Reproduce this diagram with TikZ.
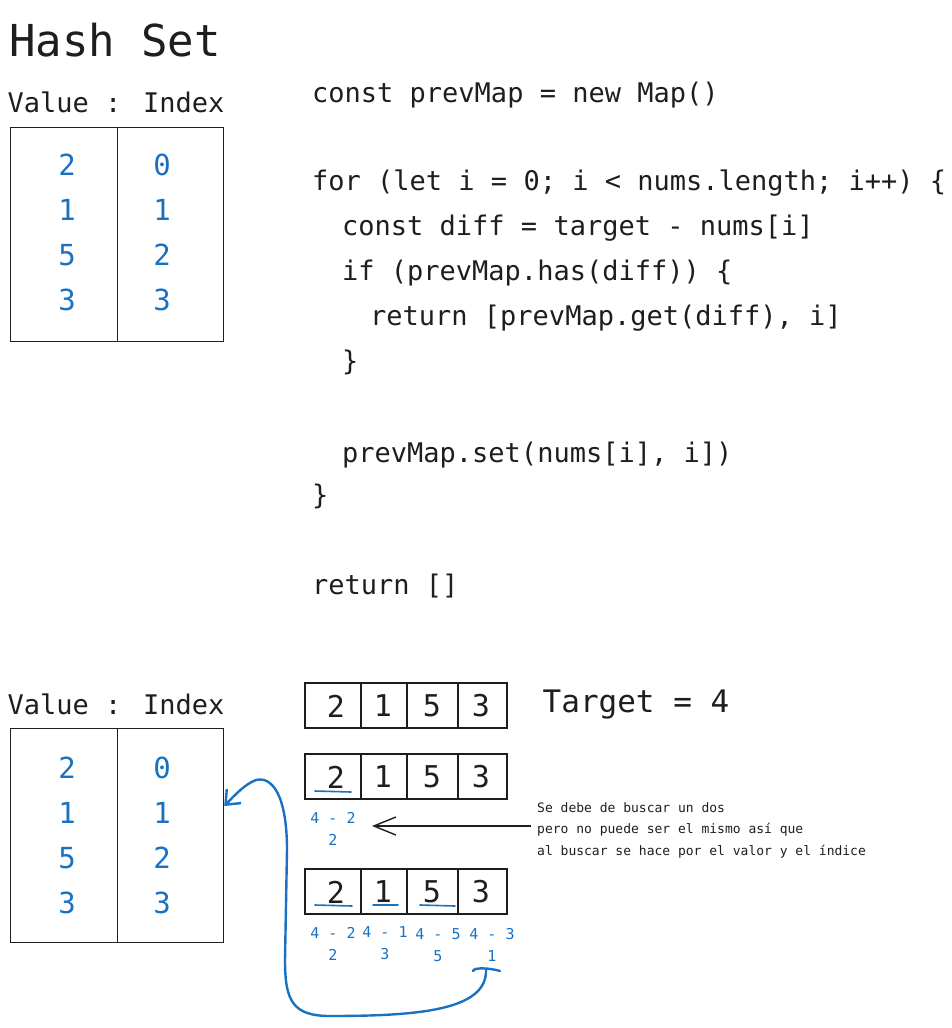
\documentclass[tikz,border=0pt]{standalone}
\usepackage{fontspec}
\setmainfont{DejaVu Sans Mono}
\setmonofont{DejaVu Sans Mono}
\usetikzlibrary{arrows.meta}
\definecolor{ink}{HTML}{1E1E1E}
\definecolor{inkblue}{HTML}{1971C2}
\newcommand{\fsz}[1]{\fontsize{#1}{#1}\selectfont}

\begin{document}
\begin{tikzpicture}[x=1pt, y=-1pt,
    title/.style={font=\fsz{44}, text=ink},
    header/.style={font=\fsz{27}, text=ink},
    code/.style={font=\fsz{27}, text=ink, anchor=west, inner sep=0pt, text height=20pt, text depth=6pt},
    tabnum/.style={font=\fsz{29}, text=inkblue},
    cellnum/.style={font=\fsz{30}, text=ink},
    diffnum/.style={font=\fontsize{15}{22}\selectfont, text=inkblue, align=center, inner sep=0pt},
    note/.style={font=\fontsize{13}{21.5}\selectfont, text=ink, anchor=west, align=left, inner sep=0pt},
    frame/.style={draw=ink, line width=1.2pt},
    hashbox/.style={frame, minimum width=213, minimum height=214, anchor=north west, inner sep=0pt},
    underl/.style={draw=inkblue, line width=1.6pt, line cap=round},
    blueline/.style={draw=inkblue, line width=2.4pt, line cap=round}
  ]
  \useasboundingbox (0,0) rectangle (951,1028);

  % hash set
  \node[title] (hashset) at (115,40) {Hash Set};
  \node[header] (tophead) at (116,102) {Value : Index};
  \node[hashbox] (toptab) at (10,127) {};
  \draw[frame] (toptab.north) -- (toptab.south);
  \foreach \v/\i [count=\r] in {2/0,1/1,5/2,3/3} {
    \node[tabnum] (topv\r) at (67,120+45*\r) {\v};
    \node[tabnum] (topi\r) at (162,120+45*\r) {\i};
  }

  % code
  \node[code] (l1) at (312,95) {const prevMap = new Map()};
  \node[code] (l2) at (312,183) {for (let i = 0; i < nums.length; i++) \{};
  \node[code] (l3) at (342,228) {const diff = target - nums[i]};
  \node[code] (l4) at (342,273) {if (prevMap.has(diff)) \{};
  \node[code] (l5) at (370,318) {return [prevMap.get(diff), i]};
  \node[code] (l6) at (342,363) {\}};
  \node[code] (l7) at (342,455) {prevMap.set(nums[i], i])};
  \node[code] (l8) at (312,497) {\}};
  \node[code] (l9) at (312,587) {return []};

  % second hash set
  \node[header] (lowhead) at (116,704) {Value : Index};
  \node[hashbox] (lowtab) at (10,728) {};
  \draw[frame] (lowtab.north) -- (lowtab.south);
  \foreach \v/\i [count=\r] in {2/0,1/1,5/2,3/3} {
    \node[tabnum] (lowv\r) at (67,723+45*\r) {\v};
    \node[tabnum] (lowi\r) at (162,723+45*\r) {\i};
  }

  % arrays
  \foreach \yy [count=\k] in {683,754,869} {
    \draw[frame] (305,\yy) rectangle (507,\yy+45);
    \foreach \d in {361,407,458}
      \draw[frame] (\d,\yy) -- (\d,\yy+45);
    \foreach \n/\x [count=\c] in {2/336,1/383,5/432,3/481}
      \node[cellnum] (a\k c\c) at (\x,\yy+23) {\n};
  }
  \node[header, font=\fsz{31}] (target) at (636,705) {Target = 4};

  % first lookup
  \draw[underl] (315,791) -- (351,792);
  \node[diffnum] (d2) at (333,829) {4 - 2\\2};
  \node[note] (note) at (537,830) {Se debe de buscar un dos\\pero no puede ser el mismo así que\\al buscar se hace por el valor y el índice};
  \coordinate (tip) at (372,826);
  \draw[ink, line width=1.4pt, -{Straight Barb[length=22pt,width=18pt]}] ([xshift=-6pt]note.west |- tip) -- (tip);

  % all lookups
  \draw[underl] (315,905) -- (352,906);
  \draw[underl] (373,905) -- (398,905);
  \draw[underl] (420,905) -- (455,906);
  \node[diffnum] (d3c1) at (333,944) {4 - 2\\2};
  \node[diffnum] (d3c2) at (385,943) {4 - 1\\3};
  \node[diffnum] (d3c3) at (438,945) {4 - 5\\5};
  \node[diffnum] (d3c4) at (492,945) {4 - 3\\1};

  % found
  \coordinate (brl) at (473,971);
  \coordinate (brm) at (486,969);
  \coordinate (brr) at (500,971);
  \coordinate (hit) at (lowtab.east |- 0,806);
  \draw[blueline] (brl) .. controls (474,967) and (490,968) .. (brr);
  \draw[blueline, -{Straight Barb[length=12pt,width=20pt]}] (brm)
    .. controls (488,1010) and (420,1016) .. (330,1016)
    .. controls (292,1016) and (285,1000) .. (285,960)
    -- (287,850)
    .. controls (287,795) and (272,776) .. (256,780)
    .. controls (245,784) and (235,795) .. (hit);
\end{tikzpicture}
\end{document}
